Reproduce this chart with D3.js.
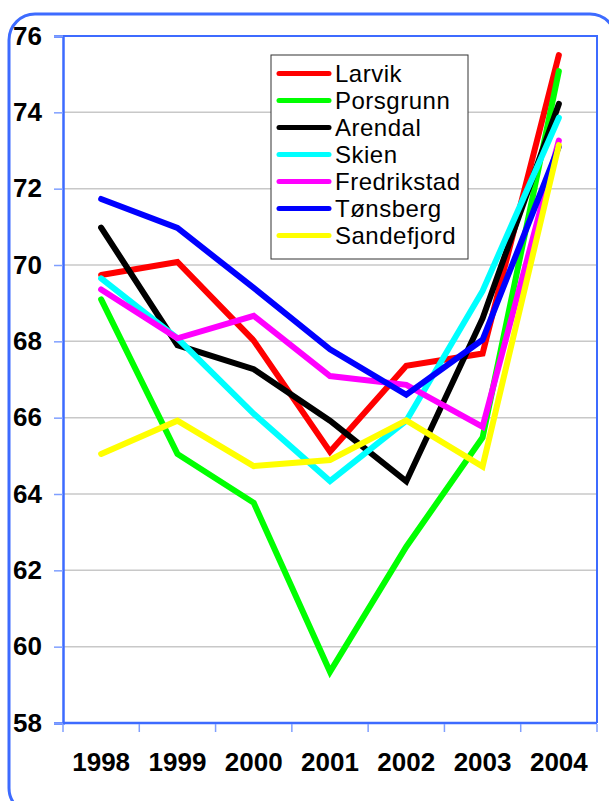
<!DOCTYPE html>
<html>
<head>
<meta charset="utf-8">
<script src="https://cdn.jsdelivr.net/npm/d3@7"></script>
<style>
  body { margin: 0; background: #fff; }
  svg { display: block; font-family: "Liberation Sans", Arial, sans-serif; }
</style>
</head>
<body>
<div id="chart"></div>
<script>
// data
const years = ["1998", "1999", "2000", "2001", "2002", "2003", "2004"];
const towns = ["Larvik", "Porsgrunn", "Arendal", "Skien", "Fredrikstad", "Tønsberg", "Sandefjord"];
const colors = ["#ff0000", "#00ff00", "#000000", "#00ffff", "#ff00ff", "#0000ff", "#ffff00"];
const larvik      = [69.74, 70.08, 68.02, 65.11, 67.36, 67.68, 75.50];
const porsgrunn   = [69.10, 65.05, 63.77, 59.34, 62.62, 65.48, 75.08];
const arendal     = [70.98, 67.90, 67.27, 65.92, 64.33, 68.60, 74.22];
const skien       = [69.65, 68.08, 66.10, 64.34, 65.92, 69.32, 73.86];
const fredrikstad = [69.36, 68.08, 68.67, 67.09, 66.86, 65.76, 73.26];
const tonsberg    = [71.73, 70.97, 69.40, 67.79, 66.60, 68.04, 73.10];
const sandefjord  = [65.05, 65.92, 64.73, 64.89, 65.93, 64.72, 73.14];
const yTicks = [58, 60, 62, 64, 66, 68, 70, 72, 74, 76];

const series = [larvik, porsgrunn, arendal, skien, fredrikstad, tonsberg, sandefjord];

const W = 609, H = 801;
const margin = {top: 36, right: 12, bottom: 78, left: 63};
const width = W - margin.left - margin.right;
const height = H - margin.top - margin.bottom;

const svg = d3.select("#chart").append("svg")
    .attr("width", W)
    .attr("height", H);

// outer rounded frame (runs off the right and bottom edges)
svg.append("rect")
    .attr("x", 9).attr("y", 14)
    .attr("width", 607).attr("height", 800)
    .attr("rx", 26)
    .attr("fill", "none")
    .attr("stroke", "#3d6bff")
    .attr("stroke-width", 3);

const g = svg.append("g")
    .attr("transform", "translate(" + margin.left + "," + margin.top + ")");

const x = d3.scaleBand().domain(years).range([0, width]);
const y = d3.scaleLinear().domain([58, 76]).range([height, 0]);

// grid
g.append("g").selectAll("line")
    .data(yTicks.slice(1, -1))
    .enter().append("line")
    .attr("x1", 0).attr("x2", width)
    .attr("y1", d => y(d)).attr("y2", d => y(d))
    .attr("stroke", "#c8c8c8")
    .attr("stroke-width", 1.5);

// top and right border
g.append("path")
    .attr("d", "M0," + y(76) + "H" + width + "V" + height)
    .attr("fill", "none")
    .attr("stroke", "#3d6bff")
    .attr("stroke-width", 2);

// y axis
const yAxis = g.append("g")
    .call(d3.axisLeft(y).tickValues(yTicks).tickSize(9).tickPadding(12));
yAxis.select(".domain").attr("stroke", "#3d6bff").attr("stroke-width", 2.5);
yAxis.selectAll(".tick line").attr("stroke", "#7f9fff").attr("stroke-width", 1.5);
yAxis.selectAll(".tick text")
    .attr("font-size", 26).attr("font-weight", "bold")
    .attr("font-family", "'Liberation Sans', Arial, sans-serif")
    .attr("fill", "#000");

// x axis, ticks on band edges
const xAxis = g.append("g")
    .attr("transform", "translate(0," + height + ")");
xAxis.append("line")
    .attr("x1", 0).attr("x2", width)
    .attr("stroke", "#3d6bff").attr("stroke-width", 2.5);
xAxis.selectAll(".edge")
    .data(years.concat(["end"]))
    .enter().append("line")
    .attr("class", "edge")
    .attr("x1", (d, i) => i === years.length ? width : x(d))
    .attr("x2", (d, i) => i === years.length ? width : x(d))
    .attr("y1", 1).attr("y2", 9)
    .attr("stroke", "#7f9fff").attr("stroke-width", 1.5);
xAxis.selectAll("text")
    .data(years)
    .enter().append("text")
    .attr("x", d => x(d) + x.bandwidth() / 2)
    .attr("y", 48)
    .attr("text-anchor", "middle")
    .attr("font-size", 26).attr("font-weight", "bold")
    .text(d => d);

// lines
const line = d3.line()
    .x((d, i) => x(years[i]) + x.bandwidth() / 2)
    .y(d => y(d));

g.append("g").selectAll("path")
    .data(series)
    .enter().append("path")
    .attr("d", line)
    .attr("fill", "none")
    .attr("stroke", (d, i) => colors[i])
    .attr("stroke-width", 6)
    .attr("stroke-linecap", "round")
    .attr("stroke-linejoin", "miter");

// legend
const legend = svg.append("g")
    .attr("transform", "translate(271,55)");
legend.append("rect")
    .attr("x", 0).attr("y", 0)
    .attr("width", 197).attr("height", 204)
    .attr("fill", "#fff")
    .attr("stroke", "#333")
    .attr("stroke-width", 1);

const item = legend.selectAll(".item")
    .data(towns)
    .enter().append("g")
    .attr("class", "item")
    .attr("transform", (d, i) => "translate(0," + (18.5 + i * 27) + ")");
item.append("line")
    .attr("x1", 8).attr("x2", 58)
    .attr("stroke", (d, i) => colors[i])
    .attr("stroke-width", 5)
    .attr("stroke-linecap", "round");
item.append("text")
    .attr("x", 64)
    .attr("dy", "0.36em")
    .attr("font-size", 24)
    .attr("letter-spacing", 0.5)
    .text(d => d);
</script>
</body>
</html>
